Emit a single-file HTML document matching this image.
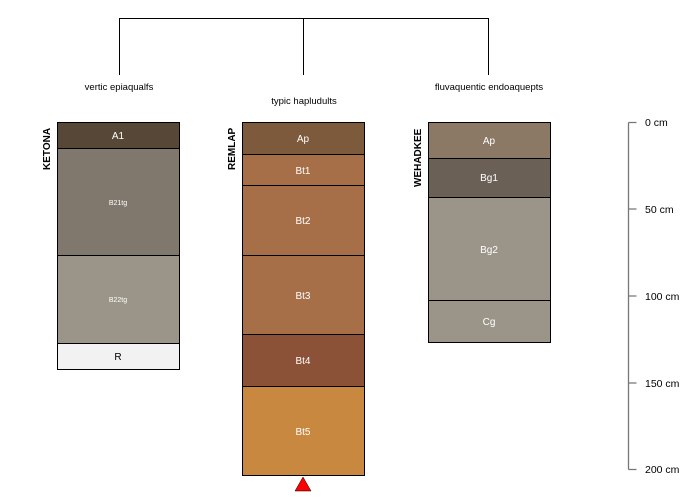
<!DOCTYPE html>
<html><head><style>body{margin:0;background:#fff}svg{display:block}</style></head><body>
<svg width="700" height="500" xmlns="http://www.w3.org/2000/svg" font-family="Liberation Sans, sans-serif">
<g stroke="#000" stroke-width="1" fill="none">
<path d="M119.5 75V18.5H488.5V75M303.5 18.5V75"/>
</g>
<g font-size="9.5" fill="#000" text-anchor="middle">
<text x="119" y="90">vertic epiaqualfs</text>
<text x="304" y="104">typic hapludults</text>
<text x="489" y="90">fluvaquentic endoaquepts</text>
</g>
<g stroke="#000" stroke-width="1">
<rect x="57.5" y="122.5" width="122" height="26" fill="#574737"/>
<rect x="57.5" y="148.5" width="122" height="107" fill="#80776d"/>
<rect x="57.5" y="255.5" width="122" height="88" fill="#9b9489"/>
<rect x="57.5" y="343.5" width="122" height="26" fill="#f2f2f2"/>
<rect x="242.5" y="122.5" width="122" height="32" fill="#7e5a3c"/>
<rect x="242.5" y="154.5" width="122" height="31" fill="#a66f48"/>
<rect x="242.5" y="185.5" width="122" height="70" fill="#a66f48"/>
<rect x="242.5" y="255.5" width="122" height="79" fill="#a66f48"/>
<rect x="242.5" y="334.5" width="122" height="52" fill="#8b5238"/>
<rect x="242.5" y="386.5" width="122" height="89" fill="#c98840"/>
<rect x="428.5" y="122.5" width="122" height="36" fill="#8b7966"/>
<rect x="428.5" y="158.5" width="122" height="39" fill="#6a6055"/>
<rect x="428.5" y="197.5" width="122" height="103" fill="#9b9489"/>
<rect x="428.5" y="300.5" width="122" height="42" fill="#9b9489"/>
</g>
<g font-size="10" text-anchor="middle" fill="#fff">
<text x="118" y="139">A1</text>
<text x="118" y="205" font-size="7">B21tg</text>
<text x="118" y="302" font-size="7">B22tg</text>
<text x="118" y="360" fill="#000">R</text>
<text x="303" y="142">Ap</text>
<text x="303" y="174">Bt1</text>
<text x="303" y="224">Bt2</text>
<text x="303" y="299">Bt3</text>
<text x="303" y="364">Bt4</text>
<text x="303" y="435">Bt5</text>
<text x="489" y="144">Ap</text>
<text x="489" y="181">Bg1</text>
<text x="489" y="253">Bg2</text>
<text x="489" y="325">Cg</text>
</g>
<g font-size="10" font-weight="bold" fill="#000">
<text transform="translate(50,170) rotate(-90)">KETONA</text>
<text transform="translate(235,170) rotate(-90)">REMLAP</text>
<text transform="translate(421,187) rotate(-90)">WEHADKEE</text>
</g>
<polygon points="303,477 295,491 311,491" fill="#f00" stroke="#000" stroke-width="0.5"/>
<g stroke="#777" stroke-width="1.3" fill="none">
<path d="M628.5 122.5V469.5M628.5 122.5h8M628.5 209h8M628.5 296h8M628.5 383h8M628.5 469.5h8"/>
</g>
<g font-size="10.5" fill="#000">
<text x="645" y="126">0 cm</text>
<text x="645" y="213">50 cm</text>
<text x="645" y="300">100 cm</text>
<text x="645" y="387">150 cm</text>
<text x="645" y="473">200 cm</text>
</g>
</svg>
</body></html>
